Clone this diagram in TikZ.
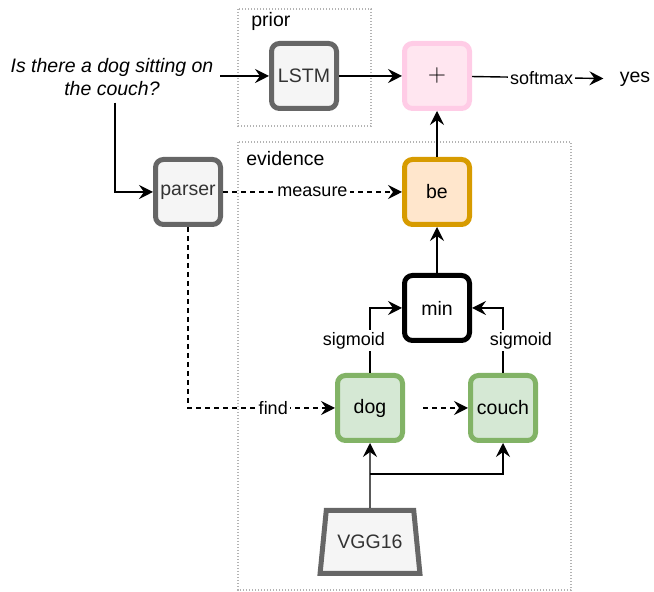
\documentclass[tikz,border=0pt]{standalone}
\usepackage{fontspec}
\setmainfont{Liberation Sans}
\usetikzlibrary{arrows.meta,shapes.geometric}

\definecolor{grayline}{HTML}{666666}
\definecolor{grayfill}{HTML}{F5F5F5}
\definecolor{graytext}{HTML}{333333}
\definecolor{pinkline}{HTML}{FFCCE6}
\definecolor{pinkfill}{HTML}{FFE6F0}
\definecolor{orangeline}{HTML}{D79B00}
\definecolor{orangefill}{HTML}{FFE6CC}
\definecolor{greenline}{HTML}{82B366}
\definecolor{greenfill}{HTML}{D5E8D4}
\definecolor{dotline}{HTML}{B3B3B3}

\begin{document}
\begin{tikzpicture}[x=0.5pt, y=-0.5pt,
    font=\fontsize{9.75}{11.5}\selectfont,
    box/.style={draw, rounded corners=4pt, line width=2.5pt,
        minimum width=32.5pt, minimum height=32.5pt, inner sep=0pt},
    graybox/.style={box, draw=grayline, fill=grayfill, text=graytext},
    pinkbox/.style={box, draw=pinkline, fill=pinkfill},
    orangebox/.style={box, draw=orangeline, fill=orangefill},
    greenbox/.style={box, draw=greenline, fill=greenfill},
    blackbox/.style={box, draw=black, fill=white},
    group/.style={draw=dotline, line width=0.6pt, dash pattern=on 0.6pt off 0.9pt},
    conn/.style={line width=0.7pt, -{Stealth[length=7pt,width=7pt,inset=2.5pt]}},
    opt/.style={conn, dash pattern=on 2.5pt off 2pt},
    lbl/.style={fill=white, inner sep=1pt, font=\fontsize{9}{10}\selectfont}]
    \useasboundingbox (0,0) rectangle (654,592);

    % groups
    \draw[group] (238,9) rectangle (371,126);
    \draw[group] (238,142) rectangle (571,590);
    \node[anchor=base west, inner sep=0pt] (priorlbl) at (251,27) {prior};
    \node[anchor=base west, inner sep=0pt] (evidencelbl) at (246,166) {evidence};

    % nodes
    \node[align=center, font=\fontsize{9.75}{11.5}\selectfont\itshape] (q) at (112,77)
        {Is there a dog sitting on\\the couch?};
    \node[graybox] (lstm) at (304,76) {LSTM};
    \node[pinkbox] (plus) at (437,76) {\fontsize{13}{13}\selectfont$+$};
    \node[inner sep=0pt] (yes) at (635,79) {yes};
    \node[graybox] (parser) at (188,192) {parser};
    \node[orangebox] (be) at (437,192) {be};
    \node[blackbox] (min) at (437,308) {min};
    \node[greenbox] (dog) at (370,408) {dog};
    \node[greenbox] (couch) at (503,408) {couch};
    \node[trapezium, trapezium left angle=71.6, trapezium right angle=71.6,
        trapezium stretches=true, minimum width=50pt, minimum height=31.5pt,
        inner sep=0pt, draw=grayline, fill=grayfill, text=graytext,
        line width=2.5pt] (vgg) at (370,542) {VGG16};
    \coordinate (fork) at (370,474);

    % connectors
    \draw[conn] (q.east |- lstm) -- (lstm);
    \draw[conn] (lstm) -- (plus);
    \draw[conn, shorten >=8pt] (plus) -- node[lbl, xshift=-2pt] {softmax} (yes);
    \draw[conn] ([xshift=1.5pt]q.south) |- (parser);
    \draw[opt] (parser) -- node[lbl] {measure} (be);
    \draw[opt] (parser) |- node[lbl, pos=0.79] {find} (dog);
    \draw[opt, shorten <=9pt] (dog) -- (couch);
    \draw[conn] (be) -- (plus);
    \draw[conn] (min) -- (be);
    \draw[conn] (dog) |- node[lbl, pos=0.25, xshift=-8pt] {sigmoid} (min);
    \draw[conn] (couch) |- node[lbl, pos=0.25, xshift=9pt] {sigmoid} (min);
    \draw[conn] (vgg) -- (dog);
    \draw[conn] (fork) -| (couch);
\end{tikzpicture}
\end{document}
